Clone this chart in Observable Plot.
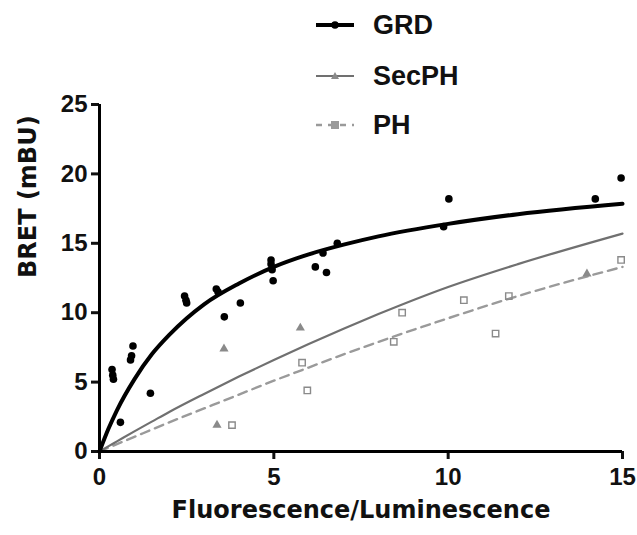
<!DOCTYPE html>
<html>
<head>
<meta charset="utf-8">
<script src="https://cdn.jsdelivr.net/npm/d3@7"></script>
<script src="https://cdn.jsdelivr.net/npm/@observablehq/plot@0.6"></script>
<style>
  html, body { margin: 0; padding: 0; background: #fff; }
  #wrap { position: relative; width: 637px; height: 535px; }
  #legend { position: absolute; left: 0; top: 0; pointer-events: none; }
  #legend text { font-family: 'Liberation Sans', Arial, sans-serif; font-weight: bold; font-size: 27px; fill: #111; }
</style>
</head>
<body>
<div id="wrap"></div>
<script>
// ---- data ----
const grdX = [0.36, 0.38, 0.40, 0.60, 0.89, 0.92, 0.96, 1.46, 2.44, 2.48, 2.50, 3.35, 3.40, 3.58, 4.04, 4.92, 4.92, 4.95, 4.98, 6.19, 6.41, 6.51, 6.82, 9.87, 10.02, 14.22, 14.96];
const grdY = [5.9, 5.5, 5.2, 2.1, 6.6, 6.9, 7.6, 4.2, 11.2, 10.9, 10.7, 11.7, 11.5, 9.7, 10.7, 13.8, 13.5, 13.1, 12.3, 13.3, 14.3, 12.9, 15.0, 16.2, 18.2, 18.2, 19.7];

const secX = [3.37, 3.57, 5.76, 13.98];
const secY = [1.9, 7.4, 8.9, 12.8];

const phX = [3.80, 5.81, 5.96, 8.44, 8.68, 10.45, 11.36, 11.74, 14.96];
const phY = [1.9, 6.4, 4.4, 7.9, 10.0, 10.9, 8.5, 11.2, 13.8];

// fitted curves
const curveX   = [0, 0.25, 0.5, 1, 1.5, 2, 3, 4, 5, 6, 7, 8, 10, 12, 15];
const grdCurve = [0, 1.6, 2.97, 5.2, 7.0, 8.4, 10.6, 12.1, 13.3, 14.2, 14.9, 15.5, 16.4, 17.1, 17.85];
const secCurve = [0, 0.37, 0.73, 1.45, 2.15, 2.85, 4.15, 5.4, 6.6, 7.75, 8.85, 9.9, 11.85, 13.5, 15.7];
const phCurve  = [0, 0.27, 0.53, 1.05, 1.58, 2.1, 3.1, 4.1, 5.1, 6.05, 7.0, 7.9, 9.6, 11.2, 13.3];

const xTicks = [0, 5, 10, 15];
const yTicks = [0, 5, 10, 15, 20, 25];
const xLabel = "Fluorescence/Luminescence";
const yLabel = "BRET (mBU)";
const seriesNames = ["GRD", "SecPH", "PH"];

// ---- tables built from the arrays ----
const pts = (xs, ys) => xs.map((x, i) => ({x, y: ys[i]}));
const grdPts = pts(grdX, grdY);
const secPts = pts(secX, secY);
const phPts = pts(phX, phY);
const grdLine = pts(curveX, grdCurve);
const secLine = pts(curveX, secCurve);
const phLine = pts(curveX, phCurve);

const chart = Plot.plot({
  width: 637,
  height: 535,
  marginLeft: 99,
  marginRight: 15,
  marginTop: 104,
  marginBottom: 84,
  style: {fontFamily: "'Liberation Sans', Arial, sans-serif", fontWeight: "bold", color: "#111", background: "#fff"},
  x: {domain: [0, 15]},
  y: {domain: [0, 25]},
  marks: [
    Plot.axisY({ticks: yTicks, tickSize: 8, tickPadding: 4, strokeWidth: 3, fontSize: 24, label: null}),
    Plot.axisX({ticks: xTicks, tickSize: 8, tickPadding: 8, strokeWidth: 3, fontSize: 24, label: null}),
    Plot.line(phLine, {x: "x", y: "y", curve: "monotone-x", stroke: "#9a9a9a", strokeWidth: 2.4, strokeDasharray: "9,6"}),
    Plot.line(secLine, {x: "x", y: "y", curve: "monotone-x", stroke: "#707070", strokeWidth: 2.2}),
    Plot.line(grdLine, {x: "x", y: "y", curve: "monotone-x", stroke: "#000", strokeWidth: 4}),
    Plot.dot(phPts, {x: "x", y: "y", symbol: "square", r: 3.6, stroke: "#8a8a8a", strokeWidth: 1.4, fill: "none"}),
    Plot.dot(secPts, {x: "x", y: "y", symbol: "triangle", r: 3.4, fill: "#8a8a8a", stroke: "none"}),
    Plot.dot(grdPts, {x: "x", y: "y", r: 3.8, fill: "#000", stroke: "none"}),
    Plot.ruleY([0], {stroke: "#000", strokeWidth: 3}),
    Plot.ruleX([0], {stroke: "#000", strokeWidth: 3}),
    Plot.text([xLabel], {text: d => d, frameAnchor: "bottom", dy: 66, fontSize: 24, fontFamily: "'DejaVu Sans', sans-serif", fontWeight: "bold", fill: "#111"}),
    Plot.text([yLabel], {text: d => d, frameAnchor: "left", dx: -71, rotate: -90, fontSize: 24, fontFamily: "'DejaVu Sans', sans-serif", fontWeight: "bold", fill: "#111"})
  ]
});
const wrap = document.getElementById("wrap");
wrap.appendChild(chart);

// ---- legend (overlay) ----
const ns = "http://www.w3.org/2000/svg";
const leg = document.createElementNS(ns, "svg");
leg.setAttribute("id", "legend");
leg.setAttribute("width", 637);
leg.setAttribute("height", 140);
const rows = [
  {name: seriesNames[0], y: 25, stroke: "#000", sw: 4, dash: null, sym: "circle", fill: "#000"},
  {name: seriesNames[1], y: 76, stroke: "#707070", sw: 2.2, dash: null, sym: "triangle", fill: "#8a8a8a"},
  {name: seriesNames[2], y: 125, stroke: "#9a9a9a", sw: 2.4, dash: "6,6", sym: "square", fill: "#9a9a9a"}
];
for (const r of rows) {
  const ln = document.createElementNS(ns, "line");
  ln.setAttribute("x1", 316); ln.setAttribute("x2", 354);
  ln.setAttribute("y1", r.y); ln.setAttribute("y2", r.y);
  ln.setAttribute("stroke", r.stroke); ln.setAttribute("stroke-width", r.sw);
  if (r.dash) ln.setAttribute("stroke-dasharray", r.dash);
  leg.appendChild(ln);
  let m;
  if (r.sym === "circle") {
    m = document.createElementNS(ns, "circle");
    m.setAttribute("cx", 335); m.setAttribute("cy", r.y); m.setAttribute("r", 3.8);
  } else if (r.sym === "triangle") {
    m = document.createElementNS(ns, "path");
    m.setAttribute("d", `M335,${r.y - 4}L339,${r.y + 3}L331,${r.y + 3}Z`);
  } else {
    m = document.createElementNS(ns, "rect");
    m.setAttribute("x", 331); m.setAttribute("y", r.y - 4); m.setAttribute("width", 8); m.setAttribute("height", 8);
  }
  m.setAttribute("fill", r.fill);
  leg.appendChild(m);
  const t = document.createElementNS(ns, "text");
  t.setAttribute("x", 373); t.setAttribute("y", r.y + 9);
  t.textContent = r.name;
  leg.appendChild(t);
}
wrap.appendChild(leg);
</script>
</body>
</html>
